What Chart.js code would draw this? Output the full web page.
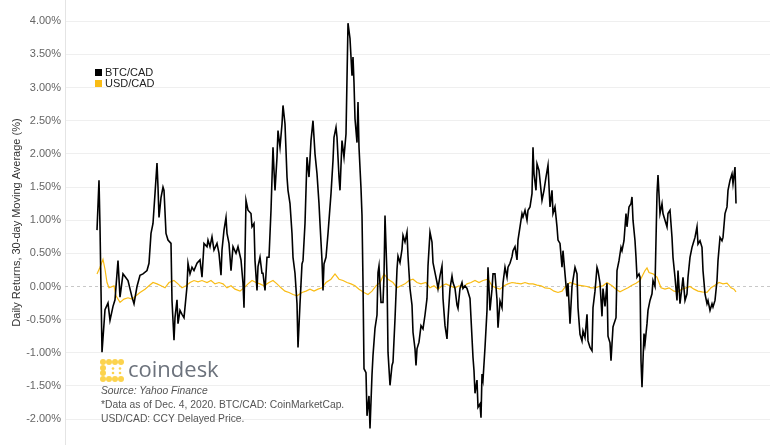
<!DOCTYPE html>
<html>
<head>
<meta charset="utf-8">
<script src="https://cdn.jsdelivr.net/npm/chart.js@4"></script>
<style>
  html, body { margin: 0; padding: 0; background: #fff; }
  #wrap { position: relative; width: 775px; height: 445px; font-family: "Liberation Sans", Arial, sans-serif; }
  #c { position: absolute; left: 0; top: 0; }
  .leg { position: absolute; left: 95px; font-size: 11px; color: #222; line-height: 11px; }
  .leg i { display: inline-block; width: 7px; height: 7px; margin-right: 3px; vertical-align: -0px; }
  .src { position: absolute; left: 101px; font-size: 10.3px; color: #555; white-space: nowrap; }
  #logoTxt { position: absolute; left: 128px; top: 353px; font-family: "Open Sans", sans-serif; font-size: 22px; color: #6c727c; letter-spacing: 0px; }
  #logo { position: absolute; left: 100px; top: 359px; }
</style>
</head>
<body>
<div id="wrap">
  <canvas id="c" width="775" height="445"></canvas>
  <div class="leg" style="top:67px;"><i style="background:#000"></i>BTC/CAD</div>
  <div class="leg" style="top:78px;"><i style="background:#f9bc15"></i>USD/CAD</div>
  <svg id="logo" width="24" height="23" viewBox="0 0 24 23">
    <g fill="#fcd34d">
      <circle cx="3" cy="3" r="3"/><circle cx="9" cy="3" r="3"/><circle cx="15" cy="3" r="3"/><circle cx="21" cy="3" r="3"/>
      <circle cx="3" cy="9" r="3"/><circle cx="3" cy="14" r="3"/>
      <circle cx="3" cy="20" r="3"/><circle cx="9" cy="20" r="3"/><circle cx="15" cy="20" r="3"/><circle cx="21" cy="20" r="3"/>
      <circle cx="13" cy="9.5" r="1.3"/><circle cx="20" cy="9.5" r="1.3"/>
      <circle cx="13" cy="14" r="1.3"/><circle cx="20" cy="14" r="1.3"/>
    </g>
  </svg>
  <div id="logoTxt">coindesk</div>
  <div class="src" style="top:385px;font-style:italic;">Source: Yahoo Finance</div>
  <div class="src" style="top:399px;">*Data as of Dec. 4, 2020. BTC/CAD: CoinMarketCap.</div>
  <div class="src" style="top:413px;">USD/CAD: CCY Delayed Price.</div>
</div>
<script>
const seriesNames = ["BTC/CAD", "USD/CAD"];
const yTicks = [-2.0, -1.5, -1.0, -0.5, 0.0, 0.5, 1.0, 1.5, 2.0, 2.5, 3.0, 3.5, 4.0];
const yAxisTitle = "Daily Returns, 30-day Moving Average (%)";

const btcDays = [0,2,3,5,8,11,13,16,18,21, 23,26,28,31,35,37,40,43,46,50, 52,54,56,58,60,61,62,64,66,67,
 69,71,74,75,77,78,80,81,83,85, 87,90,91,93,95,97,100,103,105,107, 110,111,113,115,117,120,122,124,125,127,
 129,130,132,134,136,139,141,144,146,147, 149,151,154,155,157,158,160,161,163,165, 166,168,170,172,174,176,177,178,180,181,
 183,185,186,188,190,191,193,195,196,198, 200,201,203,205,206,208,210,212,214,216, 218,220,222,223,225,226,227,229,231,234,
 236,237,239,240,242,243,245,247,249,251, 253,255,256,257,258,260,261,262,264,265, 266,267,269,270,272,273,275,276,278,280,
 281,282,284,286,287,288,290,291,293,295, 296,298,300,301,303,305,306,308,310,311, 313,315,316,318,319,320,322,324,326,328,
 330,331,333,335,336,338,340,341,343,345, 346,348,350,351,353,355,356,358,360,361, 363,365,366,368,370,371,373,376,377,378,
 380,381,383,384,385,386,388,390,391,393, 395,396,398,400,401,403,405,406,408,410, 411,413,415,416,418,420,421,423,425,426,
 428,430,431,433,435,436,437,439,440,442, 444,445,447,449,451,453,455,456,458,460, 461,463,465,466,468,470,471,473,475,476,
 478,480,481,483,485,486,488,490,491,493, 495,496,498,500,501,503,505,506,508,510, 511,513,514,516,517,519,520,522,524,525,
 527,529,530,532,534,535,536,538,539,540, 542,543,544,545,547,548,550,551,553,555, 556,558,560,561,563,565,566,568,570,571,
 573,575,576,578,580,581,583,585,586,588, 590,591,593,595,596,598,600,601,603,605, 606,608,610,611,613,615,616,618,620,621,
 623,625,626,628,630,631,633,635,636,638, 639];

const btcValues = [0.85,1.6,0.9,-0.99,-0.35,-0.25,-0.51,-0.3,-0.2,0.39,
 -0.16,0.19,0.15,0.09,-0.16,-0.26,0,0.17,0.19,0.24,
 0.35,0.8,0.95,1.4,1.86,1.5,1.04,1.34,1.5,1.45,
 0.8,0.7,0.65,-0.21,-0.81,-0.47,-0.2,-0.56,-0.36,-0.42,
 -0.47,0,0.35,0.19,0.29,0.24,0.35,0.4,0.14,0.65,
 0.6,0.7,0.6,0.75,0.55,0.65,0.5,0.17,0.55,0.85,
 1.04,0.8,0.65,0.24,0.6,0.5,0.6,0.4,0.05,-0.32,
 1.3,1.15,1.1,0.9,0.95,0.39,-0.06,0.3,0.44,0.2,
 0.2,-0.06,0.44,0.44,1.15,2.1,1.75,1.45,1.95,2.35,
 2.1,2.45,2.73,2.45,1.65,1.45,1.25,0.8,0.44,0.2,
 -0.26,-0.92,-0.26,0.34,0.39,0.95,1.95,1.65,2.2,2.5,
 2.0,1.7,1.25,0.95,0.39,-0.06,0.34,0.44,0.8,1.4,
 1.9,2.25,2.4,2.25,1.65,1.45,2.2,1.95,2.3,3.97,
 3.74,3.18,3.46,3.07,2.53,2.17,2.78,2.1,1.48,1.07,
 0.06,-1.24,-1.3,-1.95,-1.65,-2.14,-1.33,-1.04,-0.63,-0.43,
 0.21,0.31,-0.24,-0.24,0.16,1.07,0.16,-0.99,-1.49,-1.19,
 -1.14,-0.49,0.26,0.46,0.36,0.56,0.77,0.67,0.82,0.46,
 -0.03,-0.28,-0.69,-0.94,-1.19,-0.94,-0.84,-0.59,-0.64,-0.43,
 -0.18,0.31,0.82,0.67,0.36,0.21,0.06,-0.03,0.16,0.31,
 -0.18,-0.59,-0.79,-0.49,-0.03,0.16,0.06,-0.03,-0.28,-0.33,
 -0.03,0.06,-0.03,0.01,-0.03,-0.08,-0.18,-1.07,-1.27,-1.61,
 -1.41,-1.82,-1.77,-1.98,-1.32,-1.41,-0.92,-0.36,0.29,-0.36,
 -0.04,0.19,0.19,-0.2,-0.62,-0.22,-0.32,0.05,0.29,0.14,
 0.29,0.35,0.45,0.54,0.6,0.4,0.7,0.9,1.1,1.05,
 1.15,1.0,1.15,1.2,1.4,2.1,1.7,1.45,1.85,1.75,
 1.45,1.3,1.45,1.65,1.83,1.2,1.45,1.1,1.2,0.9,
 0.7,0.65,0.29,0.54,0.19,-0.15,0.05,-0.56,0,0.1,
 0.29,0.19,-0.32,-0.72,-0.82,-0.67,-0.77,-0.42,-0.82,-0.92,
 -0.97,-0.32,-0.07,0.29,0.24,0.05,-0.45,-0.03,-0.3,0.05,
 -0.75,-0.85,-1.12,-0.61,-0.56,-0.47,0.24,0.39,0.59,0.54,
 0.69,1.1,0.9,1.2,1.25,1.35,1.0,0.69,0.44,0.14,
 0.19,0.14,-1.12,-1.52,-0.71,-0.86,-0.56,-0.36,-0.21,-0.11,
 0.09,0,1.4,1.68,1.1,1.25,1.1,1.0,0.9,1.1,
 1.15,0.74,0.44,0.14,-0.21,0.24,-0.26,0,0.14,-0.21,
 -0.11,0.14,0.44,0.59,0.64,0.74,0.9,0.64,0.69,0.59,
 0.24,-0.11,-0.26,-0.21,-0.36,-0.26,-0.31,-0.21,0.09,0.39,
 0.74,0.69,0.74,1.1,1.2,1.45,1.6,1.7,1.55,1.8,
 1.25];

const usdDays = [0,3,6,8,10,12,17,19,23,27, 31,35,39,43,48,52,56,60,64,68, 72,77,81,85,89,93,97,101,105,110,
 114,118,122,126,130,134,138,143,147,151, 155,159,163,167,172,176,180,184,188,192, 196,200,205,209,213,217,221,225,229,234,
 238,242,246,250,254,258,262,267,271,275, 279,283,287,291,296,300,304,308,312,316, 320,324,329,333,337,341,345,349,353,358,
 362,366,370,374,378,382,386,391,395,399, 403,407,411,415,419,424,428,432,436,440, 444,448,453,457,461,465,469,473,477,481,
 486,490,494,498,502,506,510,515,519,523, 527,531,535,539,543,548,550,552,556,560, 564,568,572,577,581,585,589,593,597,601,
 605,610,614,618,622,626,630,634,637,639];

const usdValues = [0.19,0.29,0.41,0.26,0.06,-0.02,0.01,-0.14,-0.24,-0.19,
 -0.17,-0.19,-0.14,-0.09,-0.04,0.01,0.06,0.04,0.01,-0.02,
 0.06,0.09,0.04,-0.02,0.01,0.06,0.09,0.07,0.09,0.06,
 0.09,0.04,0.06,0.04,-0.02,0.01,-0.04,-0.07,-0.02,0.04,
 0.09,0.06,0.04,0.01,0.06,0.09,0.04,-0.02,-0.07,-0.09,
 -0.12,-0.14,-0.09,-0.07,-0.04,-0.07,-0.04,-0.02,0.06,0.11,
 0.19,0.11,0.09,0.06,0.04,0.01,-0.04,-0.09,-0.12,-0.07,
 0.01,0.06,0.19,0.11,0.06,-0.02,0.01,0.04,0.09,0.11,
 0.06,0.04,0.06,-0.02,0.01,-0.04,0.01,0.04,0.01,-0.02,
 0.01,-0.02,0.04,0.06,0.09,0.06,0.09,0.11,0.01,-0.02,
 -0.04,0.01,0.04,0.06,0.05,0.04,0.06,0.04,0.04,0.02,
 0.01,-0.02,-0.03,-0.07,-0.09,-0.07,0.01,0.06,0.04,0.02,
 0.01,0,-0.02,-0.02,0,0.01,0.06,0.01,-0.04,-0.08,
 -0.05,-0.02,0.02,0.05,0.09,0.24,0.28,0.21,0.19,0.14,
 -0.02,-0.04,-0.02,-0.07,-0.08,-0.04,-0.02,0,-0.04,-0.07,
 -0.08,-0.09,-0.02,0.02,0.06,0.04,0.05,-0.02,-0.04,-0.08];

const zeroLine = {
  id: 'zeroLine',
  beforeDatasetsDraw(chart) {
    const { ctx, chartArea, scales } = chart;
    const y = Math.round(scales.y.getPixelForValue(0)) + 0.5;
    ctx.save();
    ctx.strokeStyle = '#c8c8c8';
    ctx.lineWidth = 1;
    ctx.setLineDash([3, 3]);
    ctx.beginPath();
    ctx.moveTo(chartArea.left, y);
    ctx.lineTo(chartArea.right, y);
    ctx.stroke();
    ctx.restore();
  }
};

new Chart(document.getElementById('c'), {
  type: 'line',
  data: {
    datasets: [
      {
        label: seriesNames[1],
        data: usdDays.map((d, i) => ({ x: d, y: usdValues[i] })),
        borderColor: '#f9bc15',
        borderWidth: 1.2,
        pointRadius: 0,
        tension: 0,
        order: 2
      },
      {
        label: seriesNames[0],
        data: btcDays.map((d, i) => ({ x: d, y: btcValues[i] })),
        borderColor: '#000000',
        borderWidth: 1.6,
        pointRadius: 0,
        tension: 0,
        order: 1
      }
    ]
  },
  options: {
    responsive: false,
    animation: false,
    layout: { padding: { left: 0, right: 5, top: 0, bottom: 0 } },
    plugins: { legend: { display: false }, tooltip: { enabled: false } },
    scales: {
      x: {
        type: 'linear',
        min: -32,
        max: 673,
        display: false
      },
      y: {
        min: -2.39,
        max: 4.32,
        afterBuildTicks(scale) { scale.ticks = yTicks.map(v => ({ value: v })); },
        afterFit(scale) { scale.width = 65; scale.paddingTop = 0; scale.paddingBottom = 0; },
        ticks: {
          padding: 4,
          color: '#666',
          font: { family: 'Liberation Sans', size: 11 },
          callback: v => v.toFixed(2) + '%'
        },
        grid: {
          drawTicks: false,
          color: ctx => (ctx.tick && ctx.tick.value === 0) ? 'rgba(0,0,0,0)' : '#efefef',
          lineWidth: 1
        },
        border: { display: true, color: '#e4e4e4' },
        title: {
          display: true,
          text: yAxisTitle,
          color: '#333',
          font: { family: 'Liberation Sans', size: 11 },
          padding: { top: 10, bottom: 0 }
        }
      }
    }
  },
  plugins: [zeroLine]
});
</script>
</body>
</html>
